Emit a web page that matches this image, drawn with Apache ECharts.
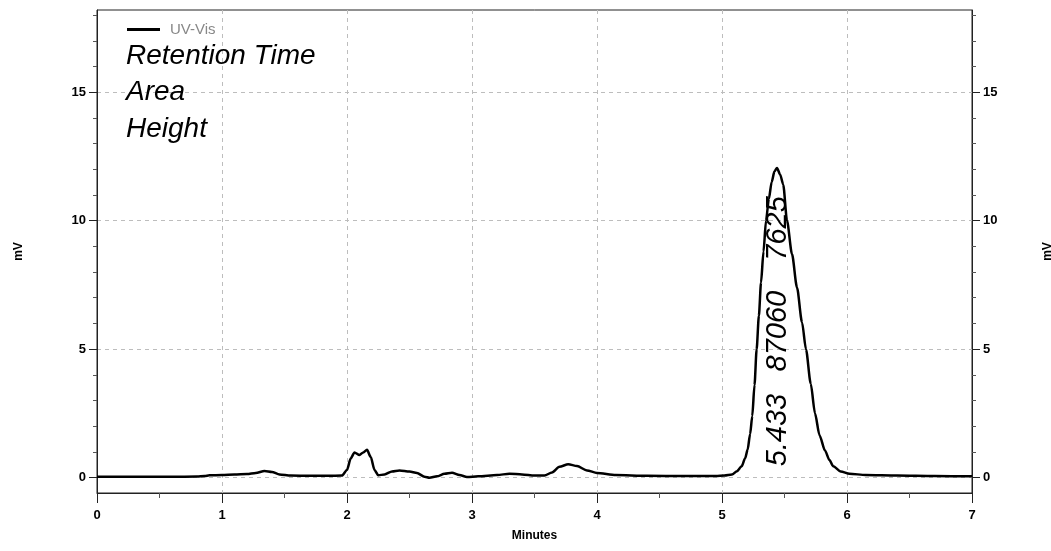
<!DOCTYPE html>
<html><head><meta charset="utf-8">
<script src="https://cdn.jsdelivr.net/npm/echarts@6/dist/echarts.min.js"></script>
<style>html,body{margin:0;padding:0;background:#fff}#c{width:1051px;height:551px}</style>
</head><body><div id="c"></div>
<script>
// ---- data ----
const times = [0.00,0.20,0.40,0.60,0.80,0.86,0.90,1.00,1.10,1.20,1.27,1.34,1.40,1.46,1.55,1.70,1.85,1.96,
  2.00,2.03,2.06,2.10,2.13,2.16,2.19,2.22,2.25,2.30,2.36,2.42,2.50,2.56,2.62,2.66,2.72,2.78,2.84,2.90,2.96,
  3.05,3.20,3.30,3.40,3.50,3.58,3.64,3.70,3.77,3.84,3.92,4.00,4.15,4.40,4.70,4.95,
  5.02,5.08,5.12,5.157,5.185,5.205,5.225,5.242,5.26,5.277,5.295,5.312,5.332,5.352,5.375,5.397,5.42,5.44,
  5.465,5.49,5.52,5.56,5.60,5.64,5.672,5.71,5.744,5.78,5.824,5.86,5.89,5.95,6.02,6.15,6.40,6.70,7.00];
const signal = [0.03,0.03,0.03,0.03,0.04,0.06,0.09,0.10,0.12,0.14,0.18,0.26,0.22,0.12,0.08,0.07,0.07,0.08,
  0.30,0.75,0.98,0.88,0.98,1.08,0.80,0.30,0.09,0.12,0.24,0.28,0.24,0.18,0.03,-0.01,0.05,0.15,0.19,0.10,0.02,
  0.05,0.10,0.15,0.12,0.08,0.08,0.20,0.42,0.52,0.45,0.28,0.18,0.10,0.07,0.06,0.06,
  0.08,0.12,0.25,0.44,0.75,1.09,1.70,2.39,3.60,4.99,6.30,7.58,8.80,10.00,10.85,11.50,11.92,12.05,
  11.80,11.40,10.00,8.70,7.40,6.05,4.99,3.65,2.50,1.65,1.05,0.68,0.44,0.24,0.15,0.10,0.08,0.06,0.05];
const xTicks = [0,1,2,3,4,5,6,7];
const yTicks = [0,5,10,15];
const seriesName = 'UV-Vis';
const headerLines = ['Retention Time','Area','Height'];
const peakTime = 5.433;
const peakLabels = ['5.433','87060','7625'];
const peakLabelLevels = [1.85, 5.7, 9.7];   // mV position of each label centre
const xName = 'Minutes';
const yName = 'mV';

const FONT = "'Liberation Sans', Arial, sans-serif";
const chart = echarts.init(document.getElementById('c'), null, {renderer: 'canvas'});

const yAxisBase = (pos) => ({
  type: 'value', position: pos, min: -0.6, max: 18.2, splitNumber: 4,
  name: yName, nameLocation: 'middle', nameGap: pos === 'left' ? 72 : 70,
  nameRotate: 90,
  nameTextStyle: {color: '#000', fontFamily: FONT, fontSize: 12, fontWeight: 'bold'},
  axisLine: {show: true, lineStyle: {color: '#222', width: 1}},
  axisTick: {show: true, length: 8, customValues: yTicks, lineStyle: {color: '#222'}},
  minorTick: {show: true, splitNumber: 5, length: 4, lineStyle: {color: '#555'}},
  axisLabel: {customValues: yTicks, margin: 11, color: '#000', fontFamily: FONT, fontSize: 13, fontWeight: 'bold'},
  splitLine: {show: pos === 'left', lineStyle: {color: '#bdbdbd', type: [4, 4], width: 1}}
});

chart.setOption({
  animation: false,
  backgroundColor: '#fff',
  grid: {left: 97, right: 79, top: 10, bottom: 58, containLabel: false, outerBoundsMode: 'none',
    show: true, borderColor: '#222', borderWidth: 1, backgroundColor: 'transparent'},
  legend: {
    left: 122, top: 17, itemWidth: 33, itemHeight: 3, icon: 'rect', itemGap: 10,
    data: [seriesName],
    textStyle: {color: '#888', fontFamily: FONT, fontSize: 15, padding: [0, 0, 0, 5]}
  },
  xAxis: {
    type: 'value', min: xTicks[0], max: xTicks[xTicks.length - 1], interval: 1,
    name: xName, nameLocation: 'middle', nameGap: 37,
    nameTextStyle: {color: '#000', fontFamily: FONT, fontSize: 12, fontWeight: 'bold'},
    axisLine: {show: true, onZero: false, lineStyle: {color: '#222', width: 1}},
    axisTick: {show: true, length: 10, lineStyle: {color: '#222'}},
    minorTick: {show: true, splitNumber: 2, length: 5, lineStyle: {color: '#555'}},
    axisLabel: {margin: 16, color: '#000', fontFamily: FONT, fontSize: 13, fontWeight: 'bold'},
    splitLine: {show: true, lineStyle: {color: '#bdbdbd', type: [4, 4], width: 1}}
  },
  yAxis: [yAxisBase('left'), yAxisBase('right')],
  series: [{
    name: seriesName, type: 'line', yAxisIndex: 0,
    data: times.map((t, i) => [t, signal[i]]),
    showSymbol: false, symbol: 'none', smooth: 0.25, smoothMonotone: 'x',
    lineStyle: {color: '#000', width: 2.5}, itemStyle: {color: '#000'}
  }]
});

const graphics = headerLines.map((txt, i) => ({
  type: 'text', id: 'h' + i, left: 126, top: 42 + i * 36.5,
  style: {text: txt, fill: '#000', font: 'italic 28px ' + FONT}
}));
peakLabels.forEach((txt, i) => {
  const p = chart.convertToPixel({gridIndex: 0}, [peakTime, peakLabelLevels[i]]);
  graphics.push({
    type: 'text', id: 'p' + i, x: p[0] + 2, y: p[1], rotation: Math.PI / 2,
    style: {text: txt, fill: '#000', font: 'italic 29px ' + FONT, align: 'center', verticalAlign: 'middle'}
  });
});
chart.setOption({graphic: graphics});
</script></body></html>
